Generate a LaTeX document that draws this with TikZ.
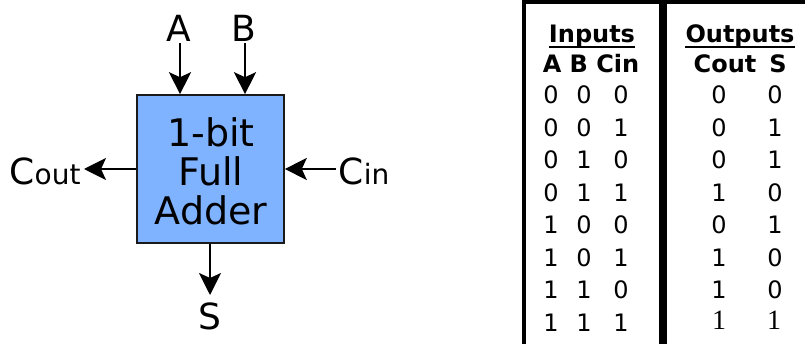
\documentclass[tikz,border=0pt]{standalone}
\usepackage{fontspec}
\setmainfont{DejaVu Sans}
\newfontfamily\serifdig{Liberation Serif}
\usetikzlibrary{arrows.meta}
\definecolor{boxblue}{HTML}{80B3FF}
\definecolor{boxedge}{HTML}{1A1A1A}
\newcommand{\subsz}{\fontsize{28}{30}\selectfont}
\tikzset{
  sig/.style={line width=1.9pt, -{Stealth[length=22pt,width=22pt,inset=5pt]}},
  lbl/.style={inner sep=0pt, font=\fontsize{36}{38}\selectfont},
  hdr/.style={inner sep=0pt, anchor=base, font=\fontsize{24}{26}\selectfont\bfseries},
  dig/.style={inner sep=0pt, anchor=base, font=\fontsize{24}{26}\selectfont},
  sdig/.style={inner sep=0pt, anchor=base},
  rule/.style={line width=#1, line cap=butt}
}
\begin{document}
\begin{tikzpicture}[x=1pt,y=-1pt]
\useasboundingbox (0,0) rectangle (805,344);
% full adder block
\node[draw=boxedge, line width=1.6pt, fill=boxblue, minimum width=147pt, minimum height=148pt, inner sep=0pt] (fa) at (210.5,169) {};
\node[inner sep=0pt, align=center, font=\fontsize{38}{39}\selectfont] (fatext) at (211,171) {1-bit\\Full\\Adder};
% labels
\node[lbl] (la) at (179,28) {A};
\node[lbl] (lb) at (244,28) {B};
\node[lbl, anchor=base] (lcout) at (45,185) {C{\subsz out}};
\node[lbl, anchor=base] (lcin) at (364,185) {C{\subsz in}};
\node[lbl] (ls) at (210,316) {S};
% connectors
\coordinate (aa) at (180,43);
\coordinate (bb) at (245,43);
\coordinate (co) at (84,169);
\coordinate (ci) at (336,169);
\coordinate (ss) at (210,295);
\draw[sig] (aa) -- (aa |- fa.north);
\draw[sig] (bb) -- (bb |- fa.north);
\draw[sig] (fa.west |- co) -- (co);
\draw[sig] (ci) -- (ci -| fa.east);
\draw[sig] (ss |- fa.south) -- (ss);
% table rules
\coordinate (tl) at (522,2);
\coordinate (tr) at (805,2);
\coordinate (lt) at (524,0);
\coordinate (lbm) at (524,344);
\coordinate (mt) at (662.5,0);
\coordinate (mb) at (662.5,344);
\draw[rule=4.5pt] (lt) -- (lbm);
\draw[rule=8pt] (mt) -- (mb);
\draw[rule=4.5pt] (tl) -- (tr);
% headers
\node[hdr] (inp) at (592,43) {Inputs};
\draw[line width=2.4pt] ([yshift=-4pt]inp.base west) -- ([yshift=-4pt]inp.base east);
\node[hdr] (outp) at (740,43) {Outputs};
\draw[line width=2.4pt] ([yshift=-4pt]outp.base west) -- ([yshift=-4pt]outp.base east);
\node[hdr] (habc) at (591,73) {A B Cin};
\node[hdr] (hcout) at (725,73) {Cout};
\node[hdr] (hs) at (778,73) {S};
% rows
\foreach \a/\b/\c/\co/\s [count=\i from 0] in {0/0/0/0/0,0/0/1/0/1,0/1/0/0/1,0/1/1/1/0,1/0/0/0/1,1/0/1/1/0,1/1/0/1/0}{
  \node[dig] (ra\i) at (551,104+32.5*\i) {\a};
  \node[dig] (rb\i) at (584,104+32.5*\i) {\b};
  \node[dig] (rc\i) at (621,104+32.5*\i) {\c};
  \node[dig] (rco\i) at (719,104+32.5*\i) {\co};
  \node[dig] (rs\i) at (775,104+32.5*\i) {\s};
}
\node[dig] (ra7) at (551,331.5) {1};
\node[dig] (rb7) at (584,331.5) {1};
\node[dig] (rc7) at (621,331.5) {1};
\node[sdig] (rco7) at (719,329) {\fontsize{28}{30}\serifdig 1};
\node[sdig] (rs7) at (774,329) {\fontsize{28}{30}\serifdig 1};
\end{tikzpicture}
\end{document}
